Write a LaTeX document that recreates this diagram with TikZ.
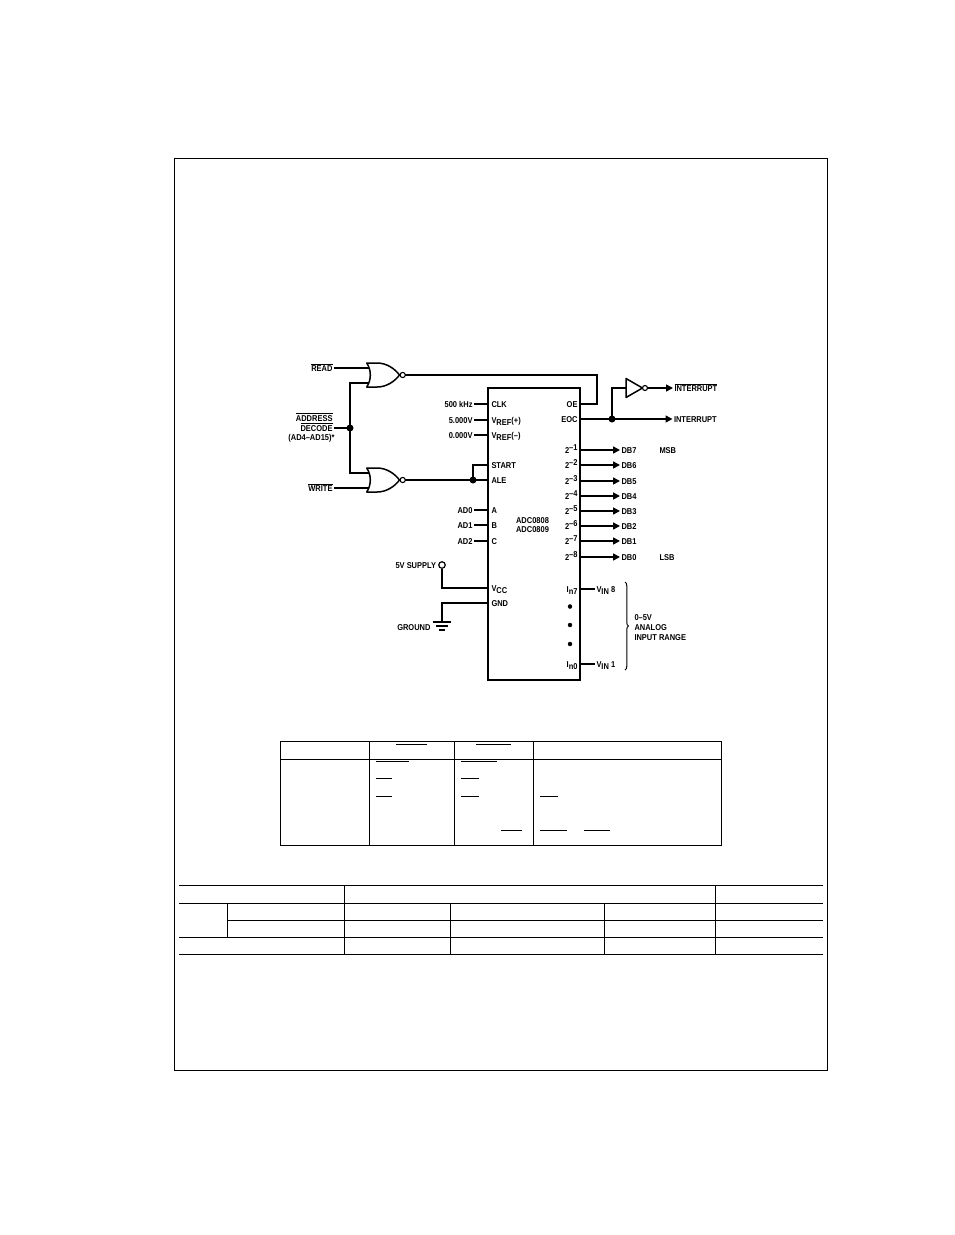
\documentclass[tikz,border=0pt]{standalone}
\usepackage{fontspec}
\setmainfont{Liberation Sans}[FakeStretch=0.88]
\usepackage{tikz}
\usetikzlibrary{arrows.meta}
\usetikzlibrary{decorations.pathreplacing}
\tikzset{>={Triangle[length=7pt,width=7pt]},
  sig/.style={font=\fontsize{8.5}{10}\selectfont\bfseries,inner sep=0pt,outer xsep=1.5pt,text height=6pt,text depth=0pt},
  wire/.style={line width=1.5pt},
  gridline/.style={line width=1pt},
  dotnode/.style={circle,fill,inner sep=0pt,minimum size=7pt},
  bar/.style={line width=0.9pt},
  norgate/.pic={
    \draw [wire,fill=white,line join=round] (-0.3,-12) .. controls (4.5,-5) and (4.5,5) .. (-0.3,12) -- (10,12) .. controls (20,12) and (28,6) .. (32.5,0) .. controls (28,-6) and (20,-12) .. (10,-12) -- cycle;
    \draw [line width=1.1pt,fill=white] (35.7,0) circle (2.6pt);
    \coordinate (-in1) at (1.5,-7);
    \coordinate (-in2) at (1.5,8);
    \coordinate (-out) at (38.3,0);
  },
  invgate/.pic={
    \draw [wire,fill=white,line join=round] (0,-9.5) -- (0,9.5) -- (16.5,0) -- cycle;
    \draw [line width=1.1pt,fill=white] (19,0) circle (2.5pt);
    \coordinate (-in) at (0,0);
    \coordinate (-out) at (21.5,0);
  }}
\newcommand{\low}[1]{\raisebox{-2pt}{#1}}
\newcommand{\high}[1]{\raisebox{3pt}{#1}}
\newcommand{\ovl}[1]{$\overline{\mbox{#1}}$}
\begin{document}
\begin{tikzpicture}[x=1pt,y=-1pt]
  \useasboundingbox (0,0) rectangle (954,1235);
  \fill[white] (0,0) rectangle (954,1235);
  \draw[gridline] (174.5,158.5) rectangle (827.5,1070.5);

  %the chip
  \node [draw,line width=1.5pt,minimum width=92pt,minimum height=292pt,inner sep=0pt] (adc) at (534,534) {};
  \node [sig] (nm1) at (532.5,520) {ADC0808};
  \node [sig] (nm2) at (532.5,529.5) {ADC0809};

  %left pins
  \foreach \n/\y/\t/\p in {clk/404/500 kHz/CLK,refp/420/5.000V/V\low{REF}(+),refm/435/0.000V/V\low{REF}(--),a/510/AD0/A,b/525/AD1/B,c/541/AD2/C} {
    \node [sig,anchor=east] (x\n) at (474,\y) {\t};
    \node [sig,anchor=west] (p\n) at (490,\y) {\p};
    \draw [wire] (x\n.east) -- (x\n.east -| adc.west);
  }
  \node [sig,anchor=west] (pstart) at (490,465) {START};
  \node [sig,anchor=west] (pale) at (490,480) {ALE};
  \node [sig,anchor=west] (pvcc) at (490,588) {V\low{CC}};
  \node [sig,anchor=west] (pgnd) at (490,603) {GND};

  %the gates
  \pic (nrd) at (367,375) {norgate};
  \pic (nwr) at (367,480) {norgate};
  \node [sig,anchor=east] (xread) at (334,368) {\ovl{READ}};
  \node [sig,anchor=east] (xwrite) at (334,488) {\ovl{WRITE}};
  \node [sig,anchor=east] (xaddr) at (334,418) {\ovl{ADDRESS}};
  \node [sig,anchor=east] (xdec) at (334,428) {\ovl{DECODE}};
  \node [sig,anchor=east] (xad) at (336,437.5) {(AD4--AD15)*};
  \node [dotnode] (daddr) at (350,428) {};
  \node [dotnode] (dale) at (473,480) {};
  \draw [wire] (xread.east) -- (nrd-in1);
  \draw [wire] (xwrite.east) -- (nwr-in2);
  \draw [wire] (xdec.east) -- (daddr.center);
  \draw [wire] (nrd-in2) -| (daddr.center) |- (nwr-in1);
  \draw [wire] (nwr-out) -- (dale.center) -- (dale.center -| adc.west);
  \draw [wire] (dale.center) |- (pstart.west -| adc.west);
  \node [sig,anchor=east] (poe) at (579,404) {OE};
  \draw [wire] (nrd-out) -| (597,404) -- (poe.east -| adc.east);

  %the EOC side
  \node [sig,anchor=east] (peoc) at (579,419) {EOC};
  \node [sig,anchor=west] (xint) at (672.5,419) {INTERRUPT};
  \node [sig,anchor=west] (xintb) at (673,388) {\ovl{INTERRUPT}};
  \pic (inv) at (626,388) {invgate};
  \node [dotnode] (deoc) at (612,419) {};
  \draw [wire,->] (peoc.east -| adc.east) -- (xint.west);
  \draw [wire] (deoc.center) |- (inv-in);
  \draw [wire,->] (inv-out) -- (xintb.west);

  %data bits
  \foreach \i/\y/\d in {1/450/7,2/465/6,3/481/5,4/496/4,5/511/3,6/526/2,7/541/1,8/557/0} {
    \node [sig,anchor=east] (b\i) at (579,\y) {2\high{--\i}};
    \node [sig,anchor=west] (db\d) at (620,\y) {DB\d};
    \draw [wire,->] (db\d.west -| adc.east) -- (db\d.west);
  }
  \node [sig,anchor=west] (msb) at (658,450) {MSB};
  \node [sig,anchor=west] (lsb) at (658,557) {LSB};

  %supply and ground
  \node [circle,draw,line width=1.2pt,inner sep=0pt,minimum size=6.5pt] (vs) at (442,565) {};
  \node [sig,anchor=east] (xvs) at (437.5,565.5) {5V SUPPLY};
  \draw [wire] (vs.south) |- (pvcc.west -| adc.west);
  \coordinate (gt) at (442,622);
  \draw [wire] (pgnd.west -| adc.west) -| (gt);
  \draw [wire] (433,622) -- (451,622);
  \draw [wire] (436,626) -- (448,626);
  \draw [wire] (439,630) -- (445,630);
  \node [sig,anchor=east] (xgnd) at (432,627) {GROUND};

  %analog inputs
  \node [sig,anchor=east] (in7) at (579,589) {I\low{n7}};
  \node [sig,anchor=east] (in0) at (579,664) {I\low{n0}};
  \node [sig,anchor=west] (v8) at (595,589) {V\low{IN} 8};
  \node [sig,anchor=west] (v1) at (595,664) {V\low{IN} 1};
  \draw [wire] (in7.east -| adc.east) -- (v8.west);
  \draw [wire] (in0.east -| adc.east) -- (v1.west);
  \foreach \y in {606.5,625,644} \filldraw (570,\y) circle (2pt);
  \draw [line width=1pt,decorate,decoration={brace,amplitude=3.5pt}] (625,582) -- (625,670);
  \node [sig,anchor=west] (r1) at (633,617) {0--5V};
  \node [sig,anchor=west] (r2) at (633,627) {ANALOG};
  \node [sig,anchor=west] (r3) at (633,637) {INPUT RANGE};

  %first table
  \draw [gridline] (280.5,741.5) rectangle (721.5,845.5);
  \draw [gridline] (280.5,759.5) -- (721.5,759.5);
  \foreach \x in {369.5,454.5,533.5} \draw [gridline] (\x,741.5) -- (\x,845.5);
  \foreach \a/\b/\y in {396/427/744.5,476/511/744.5,376/409/761.5,461/497/761.5,376/392/778.5,461/479/778.5,376/392/796.5,461/479/796.5,540/558/796.5,501/522/830,540/567/830,584/610/830}
    \draw [bar] (\a,\y) -- (\b,\y);

  %second table
  \foreach \y in {885.5,903.5,937.5,954.5} \draw [gridline] (179,\y) -- (823,\y);
  \draw [gridline] (227.5,920.5) -- (823,920.5);
  \draw [gridline] (227.5,903.5) -- (227.5,937.5);
  \foreach \x in {344.5,715.5} \draw [gridline] (\x,885.5) -- (\x,954.5);
  \foreach \x in {450.5,604.5} \draw [gridline] (\x,903.5) -- (\x,954.5);
\end{tikzpicture}
\end{document}
